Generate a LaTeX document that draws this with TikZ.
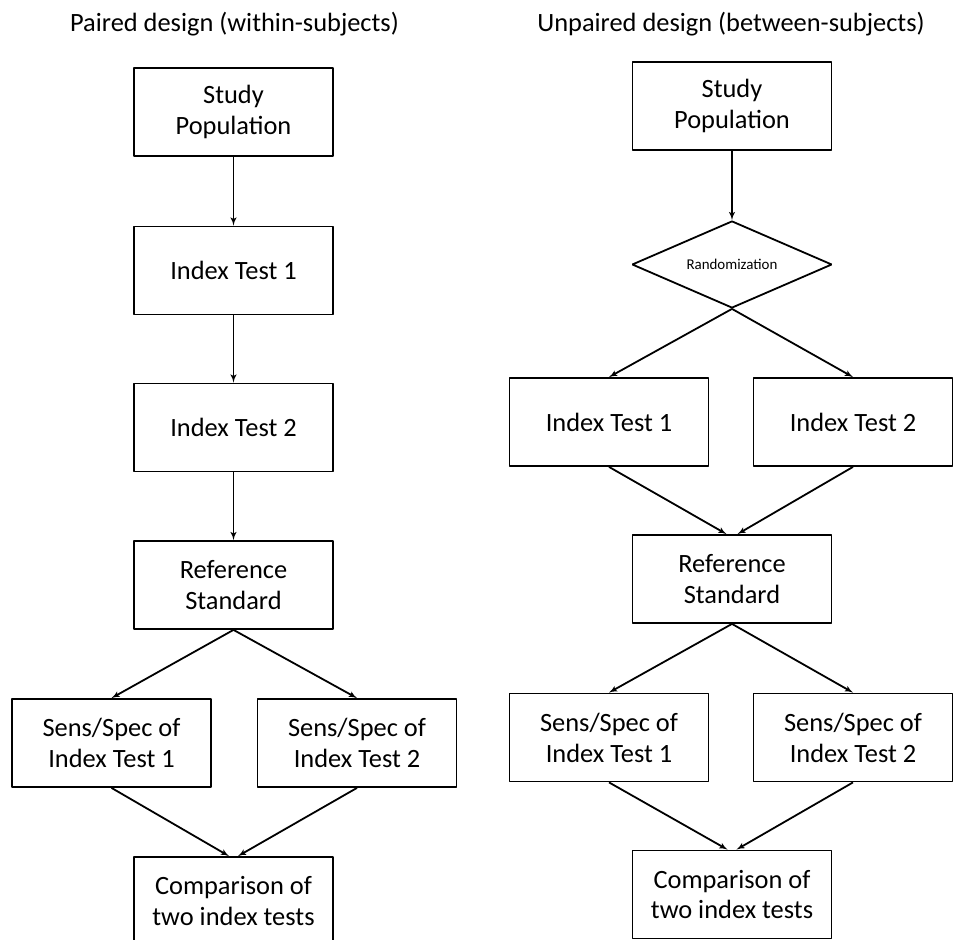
\documentclass[tikz,border=0pt]{standalone}
\usepackage{fontspec}
\setmainfont{Carlito}
\usetikzlibrary{arrows,shapes}

\begin{document}
\begin{tikzpicture}[>=latex',line join=bevel,line width=1.8bp,
  box/.style={draw,rectangle,minimum width=199bp,minimum height=88bp,inner sep=0pt,align=center,font=\fontsize{26.5}{31}\selectfont},
  decision/.style={draw,diamond,aspect=2.3,minimum width=200bp,minimum height=87bp,inner sep=0pt,font=\fontsize{15}{18}\selectfont},
  heading/.style={anchor=base,inner sep=0pt,font=\fontsize{26.5}{31}\selectfont}]
\pgfsetlinewidth{1.8bp}
\pgfsetcolor{black}
\useasboundingbox (0bp,0bp) rectangle (953bp,940bp);

% Heading: paired
\node[heading] (headL) at (234.5bp,908bp) {Paired design (within-subjects)};

% Heading: unpaired
\node[heading] (headR) at (731bp,908bp) {Unpaired design (between-subjects)};

% Node: studyL
\begin{scope}
  \definecolor{strokecol}{rgb}{0.0,0.0,0.0};
  \pgfsetstrokecolor{strokecol}
  \node[box] (studyL) at (233.5bp,828bp) {Study\\Population};
\end{scope}

% Node: idx1L
\begin{scope}
  \definecolor{strokecol}{rgb}{0.0,0.0,0.0};
  \pgfsetstrokecolor{strokecol}
  \node[box] (idx1L) at (233.5bp,669.5bp) {Index Test 1};
\end{scope}

% Node: idx2L
\begin{scope}
  \definecolor{strokecol}{rgb}{0.0,0.0,0.0};
  \pgfsetstrokecolor{strokecol}
  \node[box] (idx2L) at (233.5bp,512.5bp) {Index Test 2};
\end{scope}

% Node: refL
\begin{scope}
  \definecolor{strokecol}{rgb}{0.0,0.0,0.0};
  \pgfsetstrokecolor{strokecol}
  \node[box] (refL) at (233.5bp,355bp) {Reference\\Standard};
\end{scope}

% Node: sens1L
\begin{scope}
  \definecolor{strokecol}{rgb}{0.0,0.0,0.0};
  \pgfsetstrokecolor{strokecol}
  \node[box] (sens1L) at (111.5bp,197bp) {Sens/Spec of\\Index Test 1};
\end{scope}

% Node: sens2L
\begin{scope}
  \definecolor{strokecol}{rgb}{0.0,0.0,0.0};
  \pgfsetstrokecolor{strokecol}
  \node[box] (sens2L) at (357bp,197bp) {Sens/Spec of\\Index Test 2};
\end{scope}

% Node: compL
\begin{scope}
  \definecolor{strokecol}{rgb}{0.0,0.0,0.0};
  \pgfsetstrokecolor{strokecol}
  \node[box] (compL) at (233.5bp,39bp) {Comparison of\\two index tests};
\end{scope}

% Node: studyR
\begin{scope}
  \definecolor{strokecol}{rgb}{0.0,0.0,0.0};
  \pgfsetstrokecolor{strokecol}
  \node[box] (studyR) at (732bp,834bp) {Study\\Population};
\end{scope}

% Node: rand
\begin{scope}
  \definecolor{strokecol}{rgb}{0.0,0.0,0.0};
  \pgfsetstrokecolor{strokecol}
  \node[decision] (rand) at (732bp,675.5bp) {Randomization};
\end{scope}

% Node: idx1R
\begin{scope}
  \definecolor{strokecol}{rgb}{0.0,0.0,0.0};
  \pgfsetstrokecolor{strokecol}
  \node[box] (idx1R) at (609bp,518bp) {Index Test 1};
\end{scope}

% Node: idx2R
\begin{scope}
  \definecolor{strokecol}{rgb}{0.0,0.0,0.0};
  \pgfsetstrokecolor{strokecol}
  \node[box] (idx2R) at (853bp,518bp) {Index Test 2};
\end{scope}

% Node: refR
\begin{scope}
  \definecolor{strokecol}{rgb}{0.0,0.0,0.0};
  \pgfsetstrokecolor{strokecol}
  \node[box] (refR) at (732bp,361bp) {Reference\\Standard};
\end{scope}

% Node: sens1R
\begin{scope}
  \definecolor{strokecol}{rgb}{0.0,0.0,0.0};
  \pgfsetstrokecolor{strokecol}
  \node[box] (sens1R) at (609bp,202.5bp) {Sens/Spec of\\Index Test 1};
\end{scope}

% Node: sens2R
\begin{scope}
  \definecolor{strokecol}{rgb}{0.0,0.0,0.0};
  \pgfsetstrokecolor{strokecol}
  \node[box] (sens2R) at (853bp,202.5bp) {Sens/Spec of\\Index Test 2};
\end{scope}

% Node: compR
\begin{scope}
  \definecolor{strokecol}{rgb}{0.0,0.0,0.0};
  \pgfsetstrokecolor{strokecol}
  \node[box] (compR) at (732bp,45.5bp) {Comparison of\\two index tests};
\end{scope}

% Edge: studyL -> idx1L
\draw [->] (studyL) -- (idx1L);

% Edge: idx1L -> idx2L
\draw [->] (idx1L) -- (idx2L);

% Edge: idx2L -> refL
\draw [->] (idx2L) -- (refL);

% Edge: refL -> sens1L
\draw [->] (refL.south) -- (sens1L.north);

% Edge: refL -> sens2L
\draw [->] (refL.south) -- (sens2L.north);

% Edge: sens1L -> compL
\draw [->] (sens1L.south) -- ([xshift=-4.5bp]compL.north);

% Edge: sens2L -> compL
\draw [->] (sens2L.south) -- ([xshift=4.5bp]compL.north);

% Edge: studyR -> rand
\draw [->] (studyR) -- (rand);

% Edge: rand -> idx1R
\draw [->] (rand.south) -- (idx1R.north);

% Edge: rand -> idx2R
\draw [->] (rand.south) -- (idx2R.north);

% Edge: idx1R -> refR
\draw [->] (idx1R.south) -- ([xshift=-5.5bp]refR.north);

% Edge: idx2R -> refR
\draw [->] (idx2R.south) -- ([xshift=5.5bp]refR.north);

% Edge: refR -> sens1R
\draw [->] (refR.south) -- (sens1R.north);

% Edge: refR -> sens2R
\draw [->] (refR.south) -- (sens2R.north);

% Edge: sens1R -> compR
\draw [->] (sens1R.south) -- ([xshift=-4.5bp]compR.north);

% Edge: sens2R -> compR
\draw [->] (sens2R.south) -- ([xshift=4.5bp]compR.north);

\end{tikzpicture}
\end{document}
